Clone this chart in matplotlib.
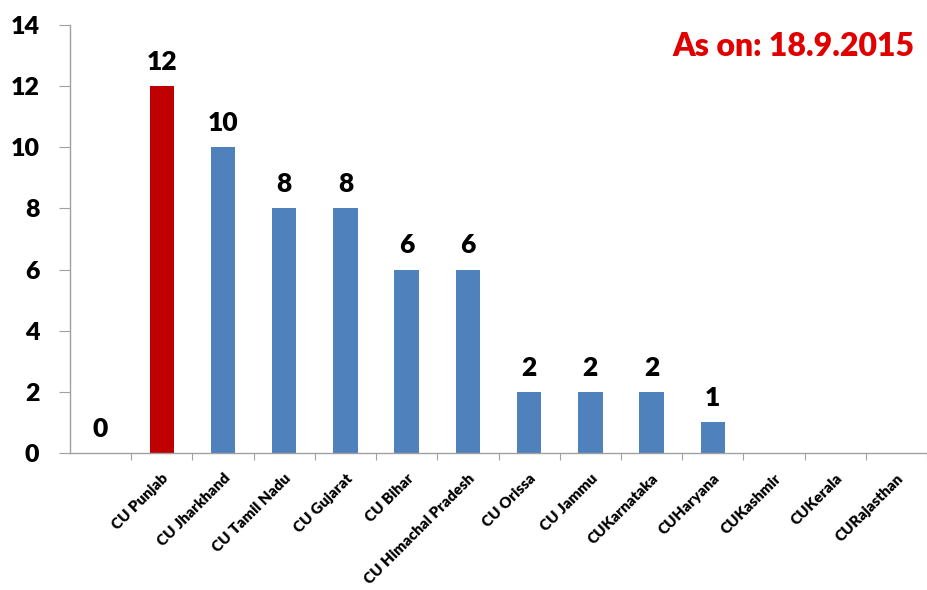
import matplotlib.pyplot as plt
import numpy as np

# --- Data ---
universities = ['', 'CU Punjab', 'CU Jharkhand', 'CU Tamil Nadu', 'CU Gujarat', 'CU Bihar',
                'CU Himachal Pradesh', 'CU Orissa', 'CU Jammu', 'CUKarnataka', 'CUHaryana',
                'CUKashmir', 'CUKerala', 'CURajasthan']
counts = [0, 12, 10, 8, 8, 6, 6, 2, 2, 2, 1, None, None, None]
highlight = 'CU Punjab'
y_ticks = [0, 2, 4, 6, 8, 10, 12, 14]

plt.rcParams['font.family'] = ['Lato', 'DejaVu Sans']

fig = plt.figure(figsize=(9.27, 5.9), dpi=100)
ax = fig.add_axes([70 / 927, 137 / 590, 857 / 927, 428 / 590])

x = np.arange(len(universities))
heights = [c if c is not None else 0 for c in counts]
colors = ['#C00000' if u == highlight else '#4F81BD' for u in universities]
ax.bar(x, heights, width=0.4, color=colors)

# value labels
for xi, c in zip(x, counts):
    if c is None:
        continue
    ax.text(xi, c + 0.4, str(c), ha='center', va='bottom',
            fontsize=19, fontweight='heavy', color='black')

ax.set_xlim(-0.5, -0.5 + 857 / 62)
ax.set_ylim(0, 14)
ax.set_yticks(y_ticks)
ax.tick_params(axis='y', labelsize=18, length=8, color='#A0A0A0', pad=14)
for lbl in ax.get_yticklabels():
    lbl.set_fontweight('heavy')

# category ticks sit on the boundaries, labels at the centres
ax.set_xticks(np.arange(len(universities)) + 0.5)
ax.set_xticklabels([])
ax.tick_params(axis='x', length=5, color='#A0A0A0')
for xi, name in zip(x, universities):
    ax.text(xi + 0.0, -0.6, name, rotation=45, ha='right', va='top',
            rotation_mode='anchor', fontsize=11, fontweight='heavy')

for side in ['top', 'right']:
    ax.spines[side].set_visible(False)
for side in ['left', 'bottom']:
    ax.spines[side].set_color('#A0A0A0')
    ax.spines[side].set_linewidth(1.0)

fig.text(915 / 927, 1 - 47 / 590, 'As on: 18.9.2015', ha='right', va='center',
         fontsize=23, fontweight='heavy', color='#E00000')

fig.savefig('out.png', dpi=100)
